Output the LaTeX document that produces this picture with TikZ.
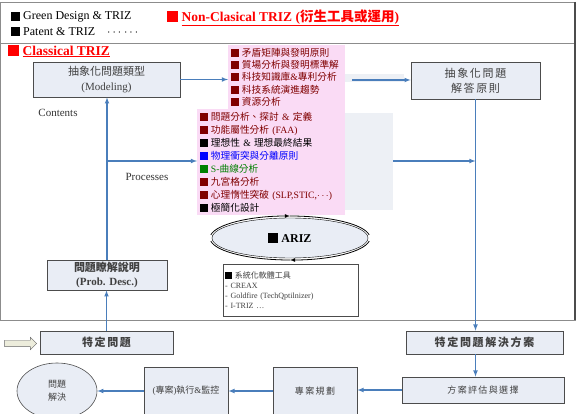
\documentclass[tikz,border=0pt]{standalone}
\usepackage{fontspec}
\setmainfont{Liberation Serif}
\newfontfamily\cjk{Noto Sans CJK TC}
\newfontfamily\cjkw{Noto Sans CJK TC}[LetterSpace=15]
\usetikzlibrary{shapes.geometric,shapes.arrows}

\definecolor{boxfill}{HTML}{E9EDF5}
\definecolor{flowblue}{HTML}{4A7EBB}
\definecolor{pinkfill}{HTML}{FADBF5}
\definecolor{bgshade}{HTML}{EDF0F5}
\definecolor{itemred}{HTML}{800000}
\definecolor{itemgreen}{HTML}{008000}
\definecolor{framegray}{HTML}{8C8C8C}
\definecolor{hollow}{HTML}{EDEDDC}
\definecolor{txtgray}{HTML}{404040}

\newcommand{\zh}[1]{{\cjk #1}}
\newcommand{\zw}[1]{{\cjkw #1}}
\newcommand{\sq}[2][8pt]{\textcolor{#2}{\rule[-0.6pt]{#1}{#1}}}

\begin{document}
\begin{tikzpicture}[x=1pt, y=-1pt,
	box/.style={draw=black!70, fill=boxfill, line width=0.8pt, align=center, inner sep=0pt, text=txtgray},
	flow/.style={draw=flowblue, line width=1.1pt, -latex},
	pinkbox/.style={fill=pinkfill, anchor=north west, inner xsep=2.5pt, inner ysep=0pt, align=left},
	label/.style={anchor=west, inner sep=0pt},
	arizarc/.style={line width=0.8pt}
	]
\useasboundingbox (0,0) rectangle (579,414);

% frames
\draw[framegray, line width=0.9pt] (0.5,2) rectangle (575,43);
\draw[framegray, line width=0.9pt] (0.5,43) rectangle (575,320);
\draw[black!70, line width=1.2pt] (575,2) -- (575,320);

% legend
\node[label, font=\fontsize{12}{14}\selectfont] (green) at (11,17) {\sq[9pt]{black}\ Green Design \& TRIZ};
\node[label, font=\fontsize{12}{14}\selectfont] (patent) at (11,32) {\sq[9pt]{black}\ Patent \& TRIZ\quad$\cdots$\ $\cdots$};
\node[label, font=\bfseries\fontsize{13.5}{15}\selectfont, text=red] (nonclassic) at (167,18) {\sq[11pt]{red}\ \underline{Non-Clasical TRIZ (\zh{衍生工具或運用})}};
\node[label, font=\bfseries\fontsize{13.5}{15}\selectfont, text=red] (classic) at (8,51) {\sq[11pt]{red}\ \underline{Classical TRIZ}};

% tool lists
\fill[bgshade] (345,74) rectangle (404,82);
\fill[bgshade] (345,113) rectangle (393,210);
\node[pinkbox, text width=112, minimum height=64, font=\fontsize{9.7}{12.4}\selectfont, text=itemred] (tools) at (228,45) {%
\sq{itemred}\ \zh{矛盾矩陣與發明原則}\\
\sq{itemred}\ \zh{質場分析與發明標準解}\\
\sq{itemred}\ \zh{科技知識庫}\&\zh{專利分析}\\
\sq{itemred}\ \zh{科技系統演進趨勢}\\
\sq{itemred}\ \zh{資源分析}};
\node[pinkbox, text width=143, minimum height=106, font=\fontsize{9.7}{13}\selectfont] (procs) at (197,109) {%
\textcolor{itemred}{\sq{itemred}\ \zh{問題分析、探討} \& \zh{定義}}\\
\textcolor{itemred}{\sq{itemred}\ \zh{功能屬性分析} (FAA)}\\
\sq{black}\ \zh{理想性} \& \zh{理想最終結果}\\
\textcolor{blue}{\sq{blue}\ \zh{物理衝突與分離原則}}\\
\textcolor{itemgreen}{\sq{itemgreen}\ S-\zh{曲線分析}}\\
\textcolor{itemred}{\sq{itemred}\ \zh{九宮格分析}}\\
\textcolor{itemred}{\sq{itemred}\ \zh{心理惰性突破} (SLP,STIC,$\cdots$)}\\
\sq{black}\ \zh{極簡化設計}};

% main boxes
\node[box, minimum width=147, minimum height=35, font=\fontsize{11}{15}\selectfont] (model) at (106.5,79.5) {\zh{抽象化問題類型}\\(Modeling)};
\node[box, minimum width=129, minimum height=37, font=\fontsize{11}{15}\selectfont] (sol) at (475.5,80.5) {\zw{抽象化問題}\\\zw{解答原則}};
\node[box, minimum width=120, minimum height=30, font=\bfseries\fontsize{11}{14}\selectfont] (desc) at (107,275) {\zh{問題瞭解說明}\\(Prob. Desc.)};
\node[box, minimum width=133, minimum height=23, font=\bfseries\fontsize{11}{14}\selectfont] (spec) at (106.5,342.5) {\zw{特定問題}};
\node[box, minimum width=157, minimum height=23, font=\bfseries\fontsize{11}{14}\selectfont] (specsol) at (484.5,342.5) {\zw{特定問題解決方案}};
\node[box, minimum width=162, minimum height=26, font=\fontsize{9}{12}\selectfont] (evalsel) at (483,390) {\zw{方案評估與選擇}};
\node[box, minimum width=84, minimum height=48, font=\fontsize{9}{12}\selectfont] (plan) at (315,391) {\zw{專案規劃}};
\node[box, minimum width=84, minimum height=48, font=\fontsize{9}{12}\selectfont] (exec) at (186,391) {(\zh{專案})\zh{執行}\&\zh{監控}};
\node[box, ellipse, minimum width=80, minimum height=56, line width=0.6pt, font=\fontsize{9}{13}\selectfont] (solved) at (57,391) {\zh{問題}\\\zh{解決}};

% ARIZ
\node[ellipse, draw=black, fill=boxfill, minimum width=156, minimum height=40, font=\bfseries\fontsize{12}{14}\selectfont] (ariz) at (290,238) {\sq[10pt]{black}\ ARIZ};
\draw[arizarc, -latex] (ariz.center) ++(172:80pt and 22pt) arc[start angle=172, end angle=90, x radius=80pt, y radius=22pt];
\draw[arizarc] (ariz.center) ++(90:80pt and 22pt) arc[start angle=90, end angle=8, x radius=80pt, y radius=22pt];
\draw[arizarc, -latex] (ariz.center) ++(-8:80pt and 22pt) arc[start angle=-8, end angle=-90, x radius=80pt, y radius=22pt];
\draw[arizarc] (ariz.center) ++(-90:80pt and 22pt) arc[start angle=-90, end angle=-172, x radius=80pt, y radius=22pt];

% software
\node[draw=black!70, fill=white, anchor=north west, minimum width=135, minimum height=52, text width=131, inner xsep=2pt, align=left, font=\fontsize{8}{10}\selectfont, text=black!75] (soft) at (223,264) {\sq[7pt]{black}\ \zh{系統化軟體工具}\\- CREAX\\- Goldfire (TechQptilnizer)\\- I-TRIZ \ldots};

% labels
\node[font=\fontsize{11}{13}\selectfont, text=black!80] (contents) at (58,113) {Contents};
\node[font=\fontsize{11}{13}\selectfont, text=black!80] (processes) at (147,177) {Processes};

% start arrow
\node[single arrow, draw=black!60, fill=hollow, minimum height=32, inner sep=3pt, single arrow head extend=3pt] (start) at (19,343.5) {};

% flow
\coordinate (toolsout) at (352,80);
\coordinate (branch) at (107,161);
\coordinate (procsout) at (393,161);
\draw[flow] (model.east) -- (model.east -| tools.west);
\draw[flow] (toolsout) -- (toolsout -| sol.west);
\draw[flow] (desc.north) -- (desc.north |- model.south);
\draw[flow] (branch) -- (branch -| procs.west);
\draw[flow] (procsout) -- (procsout -| sol.south);
\draw[flow] (sol.south) -- (sol.south |- specsol.north);
\draw[flow] (sol.south |- specsol.south) -- (sol.south |- evalsel.north);
\draw[flow] (evalsel.west) -- (evalsel.west -| plan.east);
\draw[flow] (plan.west) -- (exec.east);
\draw[flow] (exec.west) -- (solved.east);
\draw[flow] (spec.north) -- (spec.north |- desc.south);
\end{tikzpicture}
\end{document}
